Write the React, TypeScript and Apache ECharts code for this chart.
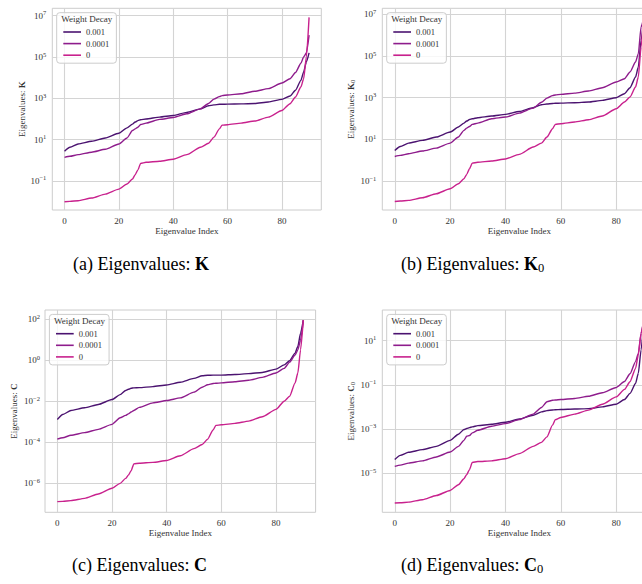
import React, { useEffect, useRef } from 'react';
import * as echarts from 'echarts';

// Eigenvalue indices
const idx = [0, 2, 5, 10, 15, 20, 23, 25, 26, 27, 28, 30, 35, 40, 45, 50, 53, 55, 57, 58, 60, 65, 70, 75, 80, 83, 85, 87, 88, 89, 90];
const decays = ['0.001', '0.0001', '0'];
const colors = ['#4b1370', '#8e1c8c', '#c8218d'];

// log10 of eigenvalues, panel (a) K
const kWd001 = [0.44, 0.63, 0.79, 0.92, 1.08, 1.31, 1.57, 1.75, 1.85, 1.92, 1.96, 2.0, 2.09, 2.17, 2.32, 2.49, 2.64, 2.68, 2.71, 2.71, 2.72, 2.73, 2.75, 2.82, 2.95, 3.11, 3.39, 3.87, 4.28, 4.76, 5.2];
const kWd0001 = [0.14, 0.19, 0.27, 0.39, 0.53, 0.79, 1.08, 1.44, 1.52, 1.6, 1.73, 1.8, 1.98, 2.07, 2.25, 2.49, 2.75, 2.96, 3.08, 3.13, 3.16, 3.22, 3.34, 3.47, 3.74, 3.95, 4.25, 4.7, 5.0, 5.2, 6.06];
const kWd0 = [-2.01, -1.99, -1.96, -1.83, -1.64, -1.4, -1.15, -0.91, -0.7, -0.47, -0.15, -0.1, -0.05, 0.05, 0.27, 0.63, 0.82, 1.12, 1.52, 1.7, 1.72, 1.8, 1.9, 2.09, 2.41, 2.74, 3.06, 3.55, 3.95, 5.0, 6.92];

// log10 of eigenvalues, panel (b) K0
const k0Wd001 = [0.47, 0.66, 0.82, 0.95, 1.11, 1.35, 1.59, 1.78, 1.88, 1.95, 1.99, 2.04, 2.12, 2.2, 2.34, 2.52, 2.66, 2.7, 2.72, 2.73, 2.74, 2.76, 2.79, 2.87, 3.0, 3.19, 3.48, 3.99, 4.47, 5.75, 6.79];
const k0Wd0001 = [0.18, 0.23, 0.31, 0.44, 0.58, 0.82, 1.11, 1.43, 1.54, 1.62, 1.72, 1.78, 1.99, 2.07, 2.26, 2.5, 2.78, 2.98, 3.1, 3.13, 3.16, 3.22, 3.32, 3.48, 3.75, 3.91, 4.23, 4.71, 5.11, 6.39, 6.87];
const k0Wd0 = [-1.98, -1.96, -1.93, -1.8, -1.61, -1.37, -1.13, -0.89, -0.68, -0.41, -0.14, -0.1, -0.04, 0.06, 0.28, 0.63, 0.82, 1.11, 1.51, 1.72, 1.75, 1.83, 1.94, 2.12, 2.47, 2.79, 3.03, 3.51, 3.99, 5.43, 7.0];

// log10 of eigenvalues, panel (c) C
const cWd001 = [-2.89, -2.65, -2.45, -2.32, -2.16, -1.92, -1.68, -1.48, -1.42, -1.37, -1.35, -1.34, -1.29, -1.21, -1.08, -0.89, -0.76, -0.74, -0.73, -0.73, -0.73, -0.7, -0.66, -0.6, -0.44, -0.23, -0.03, 0.34, 0.66, 1.31, 1.95];
const cWd0001 = [-3.85, -3.78, -3.66, -3.53, -3.37, -3.13, -2.81, -2.69, -2.62, -2.53, -2.45, -2.3, -2.08, -1.97, -1.84, -1.56, -1.32, -1.2, -1.14, -1.13, -1.11, -1.05, -0.98, -0.84, -0.63, -0.4, -0.1, 0.25, 0.5, 0.98, 1.92];
const cWd0 = [-6.89, -6.88, -6.84, -6.73, -6.52, -6.24, -6.0, -5.76, -5.6, -5.39, -5.05, -5.02, -4.98, -4.89, -4.66, -4.31, -4.11, -3.85, -3.4, -3.18, -3.15, -3.08, -2.97, -2.76, -2.4, -2.0, -1.76, -1.11, -0.63, 0.5, 1.95];

// log10 of eigenvalues, panel (d) C0
const c0Wd001 = [-4.39, -4.2, -4.06, -3.94, -3.79, -3.52, -3.24, -3.03, -2.98, -2.94, -2.91, -2.85, -2.79, -2.7, -2.55, -2.38, -2.23, -2.17, -2.14, -2.13, -2.12, -2.1, -2.08, -2.0, -1.88, -1.67, -1.39, -0.94, -0.48, 0.58, 1.9];
const c0Wd0001 = [-4.7, -4.64, -4.55, -4.45, -4.27, -4.05, -3.79, -3.52, -3.33, -3.3, -3.18, -3.06, -2.88, -2.76, -2.58, -2.33, -2.03, -1.77, -1.7, -1.69, -1.67, -1.62, -1.52, -1.36, -1.12, -0.85, -0.5, 0.05, 0.42, 1.33, 1.97];
const c0Wd0 = [-6.36, -6.35, -6.32, -6.21, -6.02, -5.79, -5.53, -5.26, -5.07, -4.85, -4.52, -4.48, -4.45, -4.35, -4.12, -3.79, -3.61, -3.36, -2.83, -2.58, -2.48, -2.33, -2.15, -1.88, -1.55, -1.21, -0.86, -0.26, 0.35, 1.33, 1.97];

// tick positions (log10 exponents) and axis extents
const xTicks = [0, 20, 40, 60, 80];
const xRange = [-4.5, 94.5];
const kTicks = [-1, 1, 3, 5, 7];
const cTicks = [-6, -4, -2, 0, 2];
const c0Ticks = [-5, -3, -1, 1];
const kRange = [-2.41, 7.36];
const k0Range = [-2.39, 7.29];
const cRange = [-7.41, 2.44];
const c0Range = [-6.78, 2.39];

const captions = ['(a) Eigenvalues: {b|K}', '(b) Eigenvalues: {b|K}{s|0}', '(c) Eigenvalues: {b|C}', '(d) Eigenvalues: {b|C}{s|0}'];
const yNames = ['Eigenvalues: {b|K}', 'Eigenvalues: {b|K}{s|0}', 'Eigenvalues: {b|C}', 'Eigenvalues: {b|C}{s|0}'];

const SERIF = '"Liberation Serif", "Times New Roman", Times, serif';
const TXT = '#333333';

export default function App() {
  const ref = useRef<HTMLDivElement>(null);
  useEffect(() => {
    if (!ref.current) return;
    const chart = echarts.init(ref.current, undefined, { renderer: 'svg' });

    const panels = [
      { g: { left: 52.3, top: 8.3, width: 269, height: 201.7 }, ticks: kTicks, range: kRange, data: [kWd001, kWd0001, kWd0], nameGap: 26, labelMargin: 6, cap: { x: 73, y: 264 } },
      { g: { left: 382.3, top: 8.3, width: 274, height: 201.7 }, ticks: kTicks, range: k0Range, data: [k0Wd001, k0Wd0001, k0Wd0], nameGap: 26, labelMargin: 6, cap: { x: 401, y: 264 } },
      { g: { left: 45, top: 310, width: 270.6, height: 202.3 }, ticks: cTicks, range: cRange, data: [cWd001, cWd0001, cWd0], nameGap: 27, labelMargin: 5, cap: { x: 72, y: 565 } },
      { g: { left: 382.3, top: 310, width: 274, height: 202.3 }, ticks: c0Ticks, range: c0Range, data: [c0Wd001, c0Wd0001, c0Wd0], nameGap: 26, labelMargin: 6, cap: { x: 401, y: 565 } },
    ];

    const fmt = (v: number) => {
      const n = Math.round(v);
      const s = n < 0 ? '\u2212' + Math.abs(n) : String(n);
      return '10{s|' + s + '}';
    };

    const option: any = {
      animation: false,
      grid: panels.map((p) => ({
        ...p.g,
        show: true,
        borderColor: '#cccccc',
        borderWidth: 1,
        containLabel: false,
        outerBoundsMode: 'none',
      })),
      xAxis: panels.map((p, i) => ({
        type: 'value',
        gridIndex: i,
        min: xRange[0],
        max: xRange[1],
        axisLine: { show: false },
        axisTick: { show: false, customValues: xTicks },
        axisLabel: { customValues: xTicks, margin: 6, fontFamily: SERIF, fontSize: 9, color: TXT },
        splitLine: { show: true, lineStyle: { color: '#d4d4d4', width: 1.1 } },
        name: 'Eigenvalue Index',
        nameLocation: 'middle',
        nameGap: 16,
        nameMoveOverlap: false,
        nameTextStyle: { fontFamily: SERIF, fontSize: 9, color: TXT },
      })),
      yAxis: panels.map((p, i) => ({
        type: 'value',
        gridIndex: i,
        min: p.range[0],
        max: p.range[1],
        axisLine: { show: false },
        axisTick: { show: false, customValues: p.ticks },
        axisLabel: {
          customValues: p.ticks,
          formatter: fmt,
          margin: p.labelMargin,
          fontFamily: SERIF,
          fontSize: 9,
          color: TXT,
          rich: { s: { fontFamily: SERIF, fontSize: 6.5, color: TXT, padding: [0, 0, 6, 0] } },
        },
        splitLine: { show: true, lineStyle: { color: '#d4d4d4', width: 1.1 } },
        name: yNames[i],
        nameLocation: 'middle',
        nameGap: p.nameGap,
        nameMoveOverlap: false,
        nameTextStyle: {
          fontFamily: SERIF,
          fontSize: 9,
          color: TXT,
          rich: {
            b: { fontFamily: SERIF, fontSize: 9, fontWeight: 'bold', color: TXT },
            s: { fontFamily: SERIF, fontSize: 6.5, color: TXT, padding: [4, 0, 0, 0] },
          },
        },
      })),
      legend: panels.map((p) => ({
        left: p.g.left + 4.4,
        top: p.g.top + 4.4,
        orient: 'vertical',
        data: decays,
        icon: 'rect',
        itemWidth: 17.7,
        itemHeight: 1.6,
        itemGap: 0,
        padding: [13.5, 7, 2.2, 6.6],
        backgroundColor: 'rgba(255,255,255,0.8)',
        borderColor: '#cccccc',
        borderWidth: 1,
        borderRadius: 3,
        selectedMode: false,
        textStyle: { fontFamily: SERIF, fontSize: 8.5, color: TXT, lineHeight: 11.6 },
      })),
      series: panels.flatMap((p, i) =>
        p.data.map((vals, j) => ({
          type: 'line',
          name: decays[j],
          xAxisIndex: i,
          yAxisIndex: i,
          data: idx.map((x, k) => [x, vals[k]]),
          showSymbol: false,
          symbol: 'none',
          silent: true,
          smooth: 0.2,
          smoothMonotone: 'x',
          lineStyle: { width: 1.4, color: colors[j] },
          itemStyle: { color: colors[j] },
        }))
      ),
      graphic: [
        ...panels.map((p) => ({
          type: 'text',
          z: 100,
          x: p.g.left + 4.4 + 30,
          y: p.g.top + 4.4 + 6.5,
          style: { text: 'Weight Decay', fontFamily: SERIF, fontSize: 9, fill: TXT, align: 'center', verticalAlign: 'middle' },
        })),
        ...panels.map((p, i) => ({
          type: 'text',
          z: 100,
          x: p.cap.x,
          y: p.cap.y,
          style: {
            text: captions[i],
            fontFamily: SERIF,
            fontSize: 18,
            fill: '#000000',
            align: 'left',
            verticalAlign: 'middle',
            rich: {
              b: { fontFamily: SERIF, fontSize: 18, fontWeight: 'bold', fill: '#000000' },
              s: { fontFamily: SERIF, fontSize: 12.5, fill: '#000000', padding: [7, 0, 0, 0] },
            },
          },
        })),
      ],
    };

    chart.setOption(option);
    return () => chart.dispose();
  }, []);

  return <div ref={ref} style={{ position: 'absolute', left: 0, top: 0, width: 642, height: 584, background: '#ffffff' }} />;
}
